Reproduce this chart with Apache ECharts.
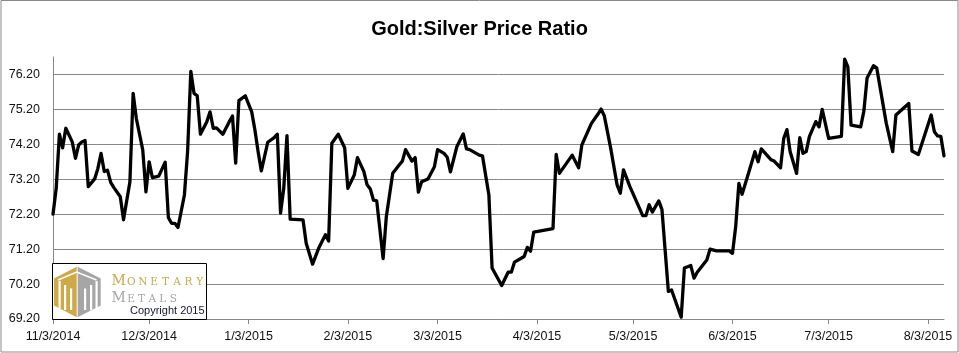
<!DOCTYPE html>
<html>
<head>
<meta charset="utf-8">
<script src="https://cdn.jsdelivr.net/npm/echarts@6/dist/echarts.min.js"></script>
<style>
html,body{margin:0;padding:0;background:#fff;}
#chart{width:959px;height:353px;}
</style>
</head>
<body>
<div id="chart"></div>
<script>
// ---- Data ----
const dates = [
'2014-11-03','2014-11-04','2014-11-05','2014-11-06','2014-11-07','2014-11-09','2014-11-10','2014-11-11','2014-11-12','2014-11-13',
'2014-11-14','2014-11-16','2014-11-17','2014-11-18','2014-11-19','2014-11-20','2014-11-21','2014-11-22','2014-11-24','2014-11-25',
'2014-11-27','2014-11-28','2014-11-29','2014-12-01','2014-12-02','2014-12-03','2014-12-04','2014-12-06','2014-12-08','2014-12-09',
'2014-12-10','2014-12-11','2014-12-12','2014-12-14','2014-12-15','2014-12-16','2014-12-17','2014-12-18','2014-12-19','2014-12-21',
'2014-12-22','2014-12-23','2014-12-24','2014-12-26','2014-12-28','2014-12-29','2014-12-30','2014-12-31','2015-01-02','2015-01-04',
'2015-01-05','2015-01-06','2015-01-07','2015-01-09','2015-01-11','2015-01-12','2015-01-13','2015-01-14','2015-01-15','2015-01-16',
'2015-01-20','2015-01-21','2015-01-23','2015-01-25','2015-01-27','2015-01-28','2015-01-29','2015-01-31','2015-02-02','2015-02-03',
'2015-02-05','2015-02-06','2015-02-08','2015-02-09','2015-02-10','2015-02-11','2015-02-12','2015-02-14','2015-02-15','2015-02-17',
'2015-02-19','2015-02-20','2015-02-21','2015-02-23','2015-02-24','2015-02-25','2015-02-26','2015-02-28','2015-03-02','2015-03-03',
'2015-03-05','2015-03-06','2015-03-07','2015-03-09','2015-03-11','2015-03-12','2015-03-13','2015-03-16','2015-03-17','2015-03-19',
'2015-03-20','2015-03-23','2015-03-25','2015-03-26','2015-03-27','2015-03-30','2015-03-31','2015-04-01','2015-04-02','2015-04-08',
'2015-04-09','2015-04-10','2015-04-14','2015-04-16','2015-04-17','2015-04-20','2015-04-22','2015-04-23','2015-04-24','2015-04-26',
'2015-04-28','2015-04-29','2015-04-30','2015-05-02','2015-05-06','2015-05-07','2015-05-08','2015-05-09','2015-05-11','2015-05-12',
'2015-05-14','2015-05-15','2015-05-18','2015-05-19','2015-05-21','2015-05-22','2015-05-23','2015-05-26','2015-05-27','2015-05-29',
'2015-06-02','2015-06-03','2015-06-04','2015-06-05','2015-06-06','2015-06-08','2015-06-10','2015-06-11','2015-06-12','2015-06-15',
'2015-06-16','2015-06-18','2015-06-19','2015-06-20','2015-06-21','2015-06-23','2015-06-24','2015-06-25','2015-06-26','2015-06-27',
'2015-06-29','2015-06-30','2015-07-01','2015-07-03','2015-07-07','2015-07-08','2015-07-09','2015-07-10','2015-07-13','2015-07-14',
'2015-07-15','2015-07-17','2015-07-18','2015-07-21','2015-07-23','2015-07-24','2015-07-28','2015-07-29','2015-07-31','2015-08-04',
'2015-08-05','2015-08-06','2015-08-07','2015-08-08'
];
const ratio = [
72.20,72.94,74.49,74.10,74.66,74.27,73.80,74.18,74.27,74.31,
72.99,73.21,73.51,73.94,73.42,73.46,73.11,72.96,72.70,72.04,
73.13,75.66,74.94,74.04,72.84,73.70,73.25,73.29,73.69,72.10,
71.94,71.94,71.82,72.75,74.00,76.29,75.66,75.59,74.49,74.85,
75.13,74.66,74.67,74.49,74.85,75.01,73.66,75.45,75.59,75.13,
74.61,73.99,73.44,74.26,74.39,74.49,72.23,72.94,74.45,72.06,
72.04,71.37,70.77,71.25,71.61,71.43,74.23,74.49,74.10,72.94,
73.32,73.82,73.42,73.04,72.92,72.60,72.58,70.93,72.13,73.37,
73.61,73.72,74.05,73.72,73.82,72.83,73.13,73.21,73.56,74.05,
73.94,73.83,73.41,74.13,74.50,74.07,74.05,73.89,73.87,72.75,
70.66,70.16,70.54,70.54,70.83,70.99,71.25,71.14,71.69,71.79,
73.91,73.37,73.89,73.53,74.18,74.80,75.06,75.21,75.02,74.09,
73.04,72.80,73.47,72.99,72.16,72.16,72.47,72.26,72.58,72.33,
69.99,70.03,69.25,70.66,70.73,70.37,70.54,70.89,71.20,71.15,
71.15,71.08,71.84,73.08,72.77,73.37,73.99,73.70,74.07,73.76,
73.72,73.53,74.37,74.62,73.99,73.37,74.39,73.94,73.99,74.42,
74.85,74.70,75.20,74.37,74.43,76.64,76.42,74.75,74.70,75.15,
76.10,76.45,76.39,74.80,73.99,75.04,75.37,74.01,73.91,75.04,
74.56,74.44,74.43,73.87
];
const xTickDates = ['2014-11-03','2014-12-03','2015-01-03','2015-02-03','2015-03-03','2015-04-03','2015-05-03','2015-06-03','2015-07-03','2015-08-03'];
const xRange = ['2014-11-03','2015-08-08'];
const yTickValues = [69.2,70.2,71.2,72.2,73.2,74.2,75.2,76.2];
const yRange = [69.2, 76.7];
const titleText = 'Gold:Silver Price Ratio';
const logoWord1 = 'MONETARY';
const logoWord2 = 'METALS';
const logoCopy = 'Copyright 2015';

// ---- helpers ----
function ts(s){ const p = s.split('-').map(Number); return new Date(p[0], p[1]-1, p[2]).getTime(); }
function fmtDate(v){ const d = new Date(v); return (d.getMonth()+1) + '/' + d.getDate() + '/' + d.getFullYear(); }

const seriesData = dates.map((d, i) => [ts(d), ratio[i]]);
const xTicks = xTickDates.map(ts);

const GRID = '#888888';
const GOLD = '#cfa948';
const GREY = '#a6a6a6';

// logo graphics
const logoEls = [];
logoEls.push({ type:'rect', shape:{x:52.5, y:263.5, width:154, height:56}, style:{fill:'#fff', stroke:'#000', lineWidth:1}, z:100 });
logoEls.push({ type:'polygon', shape:{points:[[76.7,266.7],[54,278.5],[54,305.5],[76.7,317.3]]}, style:{fill:GOLD}, z:101 });
logoEls.push({ type:'polygon', shape:{points:[[77.7,266.7],[100.7,278.5],[100.7,305.5],[77.7,317.3]]}, style:{fill:GREY}, z:101 });
[[58.5,281],[64,285],[70,288.5]].forEach(b => {
  logoEls.push({ type:'rect', shape:{x:b[0], y:b[1], width:2.2, height:310-b[1]}, style:{fill:'#fff'}, z:102 });
});
[[84,288.5],[90,285],[95.5,281]].forEach(b => {
  logoEls.push({ type:'rect', shape:{x:b[0], y:b[1], width:2.2, height:310-b[1]}, style:{fill:'#fff'}, z:102 });
});
logoEls.push({ type:'polyline', shape:{points:[[58,280],[76.7,272],[96.5,280]]}, style:{stroke:'#fff', lineWidth:1.6, fill:null}, z:102 });
(function(){
  let x = 111.7;
  for (let i = 0; i < logoWord1.length; i++) {
    const big = i === 0;
    const adv = big ? 14 : 11.4;
    logoEls.push({ type:'text', x: x + adv/2, y: 288, style:{ text: logoWord1[i], fill: GOLD, font: (big? '14px':'10.5px') + ' "DejaVu Serif"', textAlign:'center', textVerticalAlign:'bottom' }, z:103 });
    x += adv;
  }
  x = 111.7;
  for (let i = 0; i < logoWord2.length; i++) {
    const big = i === 0;
    const adv = big ? 14 : 10.6;
    logoEls.push({ type:'text', x: x + adv/2, y: 305, style:{ text: logoWord2[i], fill: GREY, font: (big? '14px':'10.5px') + ' "DejaVu Serif"', textAlign:'center', textVerticalAlign:'bottom' }, z:103 });
    x += adv;
  }
})();
logoEls.push({ type:'text', x: 130, y: 316.5, style:{ text: logoCopy, fill:'#14143c', font:'11px "Liberation Sans"', textAlign:'left', textVerticalAlign:'bottom' }, z:103 });
logoEls.push({ type:'rect', shape:{x:1, y:0.5, width:957, height:351.5}, style:{fill:null, stroke:'#898989', lineWidth:1}, z:90 });

const chart = echarts.init(document.getElementById('chart'), null, {renderer:'canvas'});
chart.setOption({
  animation: false,
  backgroundColor: '#ffffff',
  title: {
    text: titleText,
    left: 'center',
    top: 14,
    textStyle: { fontFamily: '"Liberation Sans", Arial, sans-serif', fontWeight: 'bold', fontSize: 20, color: '#000' }
  },
  grid: { left: 53, right: 15, top: 57, bottom: 34, containLabel: false },
  xAxis: {
    type: 'value',
    min: ts(xRange[0]),
    max: ts(xRange[1]),
    axisLine: { show: true, lineStyle: { color: GRID, width: 1 } },
    axisTick: { show: true, length: 5, customValues: xTicks, lineStyle: { color: GRID } },
    axisLabel: {
      customValues: xTicks,
      formatter: v => fmtDate(v),
      color: '#111',
      fontFamily: '"Liberation Sans", Arial, sans-serif',
      fontSize: 12.5,
      margin: 11,
      hideOverlap: false
    },
    splitLine: { show: false }
  },
  yAxis: {
    type: 'value',
    min: yRange[0],
    max: yRange[1],
    interval: 1,
    axisLine: { show: true, lineStyle: { color: GRID, width: 1 } },
    axisTick: { show: false },
    axisLabel: {
      color: '#111',
      fontFamily: '"Liberation Sans", Arial, sans-serif',
      fontSize: 12.5,
      margin: 13,
      showMaxLabel: false,
      formatter: v => yTickValues.some(t => Math.abs(t - v) < 1e-6) ? v.toFixed(2) : ''
    },
    splitLine: { show: true, showMaxLine: false, lineStyle: { color: GRID, width: 1 } }
  },
  series: [{
    type: 'line',
    data: seriesData,
    showSymbol: false,
    symbol: 'none',
    smooth: false,
    lineStyle: { color: '#000', width: 3.3, join: 'round', cap: 'round' },
    z: 5
  }],
  graphic: logoEls
});
</script>
</body>
</html>
